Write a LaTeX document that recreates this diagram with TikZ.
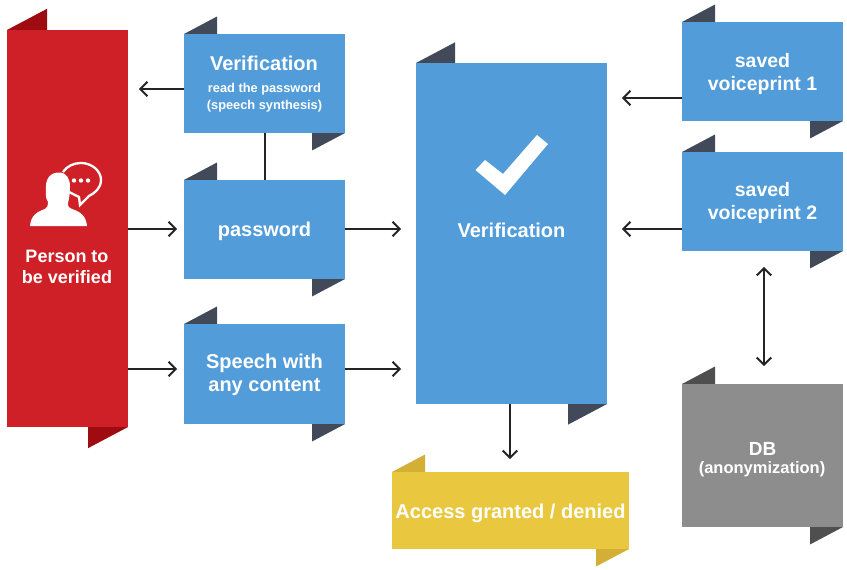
\documentclass[tikz,border=0pt]{standalone}
\usepackage{fontspec}
\setmainfont{Liberation Sans}
\usetikzlibrary{arrows.meta,calc}
\definecolor{cred}{HTML}{CF2027}
\definecolor{credd}{HTML}{9E0B10}
\definecolor{cblue}{HTML}{519CD9}
\definecolor{cslate}{HTML}{424A59}
\definecolor{cgray}{HTML}{8E8D8E}
\definecolor{cgrayd}{HTML}{4F4F4F}
\definecolor{cyel}{HTML}{E9C83F}
\definecolor{cyeld}{HTML}{D3B035}
\definecolor{cink}{HTML}{222428}
\tikzset{
  x=1pt,y=-1pt,
  panel/.style={draw=none,inner sep=0pt,outer sep=0pt,text=white,align=center},
  label/.style={inner sep=0pt,outer sep=0pt,text=white,align=center,font=\bfseries\fontsize{20}{23}\selectfont},
  link/.style={draw=cink,line width=2pt,-{Straight Barb[length=7pt,width=14.5pt,line width=2pt]}},
  twolink/.style={draw=cink,line width=2pt,{Straight Barb[length=7pt,width=14.5pt,line width=2pt]}-{Straight Barb[length=7pt,width=14.5pt,line width=2pt]}},
  plainlink/.style={draw=cink,line width=2pt},
}
\newcommand{\panelat}[8]{%
  \fill[#8] (#2,#3) -- (#2+#6,#3-#6*0.53) -- (#2+#6,#3) -- cycle;
  \fill[#8] (#4,#5) -- (#4-#6,#5+#6*0.53) -- (#4-#6,#5) -- cycle;
  \node[panel,fill=#7,minimum width=#4-#2,minimum height=#5-#3] (#1) at ({(#2+#4)/2},{(#3+#5)/2}) {};
}
\begin{document}
\begin{tikzpicture}
\useasboundingbox (0,0) rectangle (847,570);
\fill[white] (0,0) rectangle (847,570);
% panels
\panelat{red}{7}{30}{128}{427}{40}{cred}{credd}
\panelat{vone}{184}{34}{345}{133}{33}{cblue}{cslate}
\panelat{pw}{184}{180}{345}{279}{33}{cblue}{cslate}
\panelat{speech}{184}{324}{345}{424}{33}{cblue}{cslate}
\panelat{central}{416}{63}{607}{404}{39}{cblue}{cslate}
\panelat{sone}{682}{22}{843}{121}{33}{cblue}{cslate}
\panelat{stwo}{682}{152}{843}{251}{33}{cblue}{cslate}
\panelat{db}{682}{384}{843}{527}{33}{cgray}{cgrayd}
\panelat{access}{392}{472}{629}{549}{33}{cyel}{cyeld}
% labels
\node[label,font=\bfseries\fontsize{18}{21}\selectfont] (lred) at (67,266.5) {Person to\\be verified};
\node[label] (lvone) at (264,63) {Verification};
\node[label,font=\bfseries\fontsize{12.8}{16.5}\selectfont] (lvtwo) at (264.5,97.5) {read the password\\(speech synthesis)};
\node[label] (lpw) at (264.5,231) {password};
\node[label] (lspeech) at (264.5,375) {Speech with\\any content};
\node[label] (lcentral) at (511.5,230.5) {Verification};
\node[label,font=\bfseries\fontsize{19.5}{22.5}\selectfont] (lsone) at (762.5,74) {saved\\voiceprint 1};
\node[label,font=\bfseries\fontsize{19.5}{23}\selectfont] (lstwo) at (762.5,203) {saved\\voiceprint 2};
\node[label,font=\bfseries\fontsize{19}{22}\selectfont] (ldb) at (762.5,449) {DB};
\node[label,font=\bfseries\fontsize{16.5}{18}\selectfont] (ldbtwo) at (762,469) {(anonymization)};
\node[label] (laccess) at (510.5,513) {Access granted / denied};
% check mark
\fill[white] (475.5,170) -- (485,160) -- (503,174) -- (537,135) -- (548,144) -- (505,195) -- cycle;
% speech bubble, then person on top with a red halo
\draw[white,line width=2.3pt,line join=miter] (63,172) .. controls (67,166) and (74,163) .. (81,163)
  .. controls (92,163) and (101,171) .. (101,180)
  .. controls (101,188) and (95,193) .. (89,196)
  -- (80,205) -- (79,197) -- (69,192);
\fill[white] (74,180.5) circle (2.2) (81,180.5) circle (2.2) (88,180.5) circle (2.2);
\fill[white] (30,226) .. controls (31,216) and (36,212) .. (45,209)
  .. controls (47,208) and (48,206) .. (48,202)
  .. controls (45,197) and (46,194) .. (46,190)
  .. controls (45,179) and (50,172.5) .. (59,172.5)
  .. controls (67,172.5) and (70,179) .. (70,187)
  .. controls (70,194) and (69,199) .. (68,203)
  .. controls (68,207) and (69,208) .. (72,209)
  .. controls (81,212) and (86,216) .. (87,226) -- cycle;
% connectors
\coordinate (vtip) at (139,89);
\coordinate (ctip) at (510,459);
\coordinate (dbtip) at (764,366);
\coordinate (stwotip) at (764,267);
\coordinate (sonetip) at (622,98);
\coordinate (stwoout) at (622,229);
\coordinate (pwtip) at (401,229);
\coordinate (sptip) at (401,369);
\coordinate (rs) at (177,369);
\coordinate (rp) at (177,229);
\draw[link] (vone.west |- vtip) -- (vtip);
\draw[plainlink] (vone.south) -- (pw.north);
\draw[link] (red.east |- rp) -- (rp);
\draw[link] (pw.east |- pwtip) -- (pwtip);
\draw[link] (red.east |- rs) -- (rs);
\draw[link] (speech.east |- sptip) -- (sptip);
\draw[link] (sone.west |- sonetip) -- (sonetip);
\draw[link] (stwo.west |- stwoout) -- (stwoout);
\draw[link] (central.south -| ctip) -- (ctip);
\draw[twolink] (stwotip) -- (dbtip);
\end{tikzpicture}
\end{document}
